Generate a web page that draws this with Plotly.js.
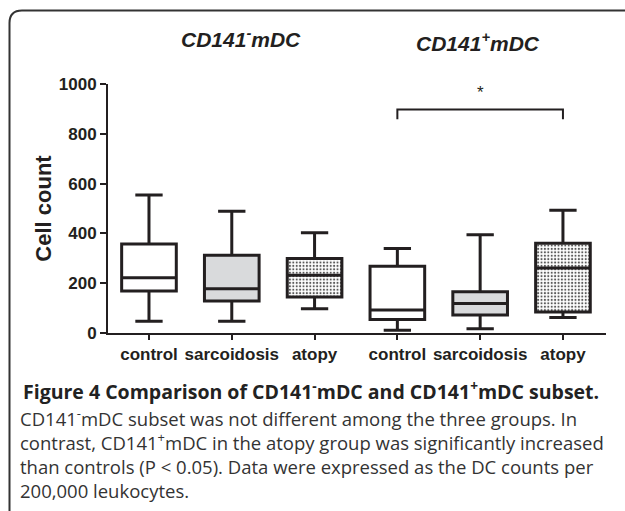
<!DOCTYPE html>
<html>
<head>
<meta charset="utf-8">
<script src="https://cdn.plot.ly/plotly-3.0.1.min.js"></script>
<style>
  html, body { margin: 0; padding: 0; background: #ffffff; }
  #chart { width: 625px; height: 511px; }
</style>
</head>
<body>
<div id="chart"></div>
<script>
// ---------------- data ----------------
const tickLabels   = ['control', 'sarcoidosis', 'atopy', 'control', 'sarcoidosis', 'atopy'];
const positions    = [0, 1, 2, 3, 4, 5];
const fillStyle    = ['open', 'grey', 'dotted', 'open', 'grey', 'dotted'];
const lowerWhisker = [47, 47, 97, 11, 17, 62];
const q1           = [169, 129, 145, 54, 72, 84];
const median       = [222, 178, 232, 92, 118, 261];
const q3           = [357, 312, 299, 268, 166, 360];
const upperWhisker = [554, 489, 403, 339, 395, 493];
const yTickValues  = [0, 200, 400, 600, 800, 1000];

const panelTitles  = ['CD141<sup>-</sup>mDC', 'CD141<sup>+</sup>mDC'];
const sigPair      = [3, 5];      // control vs atopy (CD141+)
const sigBarY      = 898;
const sigLegY      = 858;
const sigLabel     = '*';
const yTitle       = 'Cell count';
const captionTitle = 'Figure 4 Comparison of CD141<sup>-</sup>mDC and CD141<sup>+</sup>mDC subset.';
const captionLines = [
  'CD141<sup>-</sup>mDC subset was not different among the three groups. In',
  'contrast, CD141<sup>+</sup>mDC in the atopy group was significantly increased',
  'than controls (P &lt; 0.05). Data were expressed as the DC counts per',
  '200,000 leukocytes.'
];

// ---------------- layout helpers ----------------
const W = 625, H = 511;
const M = { l: 108, r: 19, t: 84, b: 178.3 };
const PW = W - M.l - M.r, PH = H - M.t - M.b;
const px = x => (x - M.l) / PW;
const py = y => (H - M.b - y) / PH;

const INK = '#231f20';
const ARIAL = 'Arial, "Liberation Sans", sans-serif';
const CAPF = '"Open Sans", "Noto Sans", sans-serif';

function pick(arr, style) { return arr.filter((_, i) => fillStyle[i] === style); }

const fills = { open: '#ffffff', grey: '#d9dadc', dotted: 'rgba(0,0,0,0)' };
const traces = [];

// dotted fill underneath the dotted boxes
traces.push({
  type: 'bar',
  x: pick(positions, 'dotted'),
  base: pick(q1, 'dotted'),
  y: pick(q3, 'dotted').map((v, i) => v - pick(q1, 'dotted')[i]),
  width: 0.66,
  marker: {
    color: '#ffffff',
    line: { width: 0 },
    pattern: { shape: '.', fgcolor: '#5a5a5a', bgcolor: '#ffffff', size: 3.4, solidity: 0.3 }
  },
  hoverinfo: 'skip',
  showlegend: false
});

['open', 'grey', 'dotted'].forEach(style => {
  traces.push({
    type: 'box',
    x: pick(positions, style),
    lowerfence: pick(lowerWhisker, style),
    q1: pick(q1, style),
    median: pick(median, style),
    q3: pick(q3, style),
    upperfence: pick(upperWhisker, style),
    width: 0.66,
    whiskerwidth: 0.5,
    boxpoints: false,
    fillcolor: fills[style],
    line: { color: INK, width: 3 },
    showlegend: false,
    hoverinfo: 'skip'
  });
});

const annotations = [];
// panel titles
annotations.push({ text: panelTitles[0], x: px(241), y: py(38), xref: 'paper', yref: 'paper',
  xanchor: 'center', yanchor: 'middle', showarrow: false,
  font: { family: ARIAL, size: 21, color: INK, weight: 'bold', style: 'italic' } });
annotations.push({ text: panelTitles[1], x: px(478), y: py(42), xref: 'paper', yref: 'paper',
  xanchor: 'center', yanchor: 'middle', showarrow: false,
  font: { family: ARIAL, size: 21, color: INK, weight: 'bold', style: 'italic' } });
// significance star
annotations.push({ text: sigLabel, x: (sigPair[0] + sigPair[1]) / 2, y: py(92), xref: 'x', yref: 'paper',
  xanchor: 'center', yanchor: 'middle', showarrow: false,
  font: { family: ARIAL, size: 17, color: INK } });
// caption
annotations.push({ text: '<b>' + captionTitle + '</b>', x: px(21), y: py(390), xref: 'paper', yref: 'paper',
  xanchor: 'left', yanchor: 'middle', showarrow: false, align: 'left',
  font: { family: CAPF, size: 19.5, color: '#222222' } });
annotations.push({ text: captionLines.join('<br>'), x: px(18), y: py(402), xref: 'paper', yref: 'paper',
  xanchor: 'left', yanchor: 'top', showarrow: false, align: 'left',
  font: { family: CAPF, size: 18.5, color: '#333333' } });

const shapes = [
  // significance bracket
  { type: 'path', xref: 'x', yref: 'y',
    path: `M ${sigPair[0]},${sigLegY} L ${sigPair[0]},${sigBarY} L ${sigPair[1]},${sigBarY} L ${sigPair[1]},${sigLegY}`,
    line: { color: INK, width: 2 } },
  // figure frame with rounded top-left corner
  { type: 'path', xref: 'paper', yref: 'paper',
    path: `M ${px(9.5)},${py(530)} L ${px(9.5)},${py(23)} Q ${px(9.5)},${py(10.5)} ${px(22)},${py(10.5)} L ${px(650)},${py(10.5)}`,
    line: { color: '#333333', width: 2 } }
];

const layout = {
  width: W, height: H,
  margin: M,
  paper_bgcolor: '#ffffff',
  plot_bgcolor: 'rgba(0,0,0,0)',
  showlegend: false,
  boxmode: 'overlay',
  xaxis: {
    range: [-0.495, 5.52],
    tickmode: 'array', tickvals: positions, ticktext: tickLabels.map(t => '<b>' + t + '</b>'),
    ticks: 'outside', ticklen: 5, tickwidth: 2, tickcolor: INK,
    showline: true, linewidth: 2, linecolor: INK,
    showgrid: false, zeroline: false, fixedrange: true,
    tickfont: { family: ARIAL, size: 17, color: INK }
  },
  yaxis: {
    range: [0, 1000],
    tickmode: 'array', tickvals: yTickValues, ticktext: yTickValues.map(v => '<b>' + v + '</b>'),
    ticks: 'outside', ticklen: 6, tickwidth: 2, tickcolor: INK,
    showline: true, linewidth: 2, linecolor: INK,
    showgrid: false, zeroline: false, fixedrange: true,
    tickfont: { family: ARIAL, size: 17, color: INK },
    title: { text: '<b>' + yTitle + '</b>', standoff: 1, font: { family: ARIAL, size: 22, color: INK } }
  },
  annotations: annotations,
  shapes: shapes
};

Plotly.newPlot('chart', traces, layout, { displayModeBar: false });
</script>
</body>
</html>
